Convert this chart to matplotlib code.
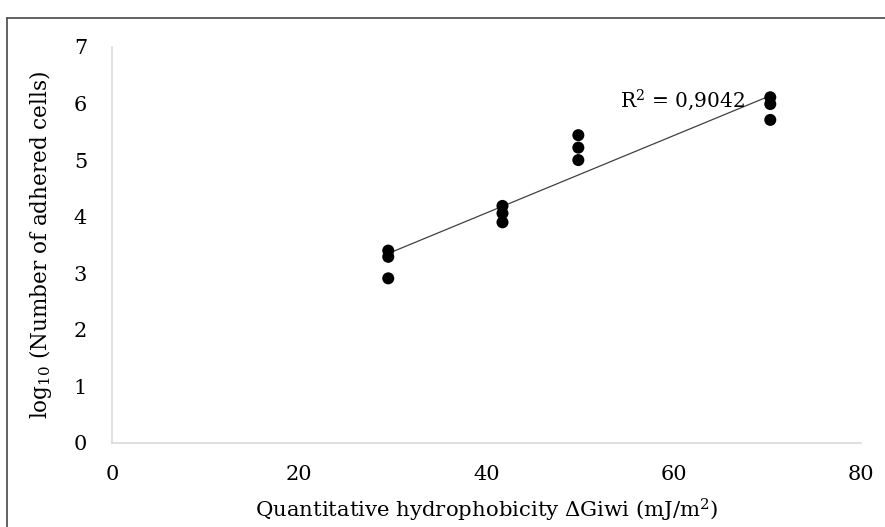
import numpy as np
import matplotlib.pyplot as plt
from matplotlib.lines import Line2D

plt.rcParams.update({'font.family': 'DejaVu Serif',
                     'mathtext.fontset': 'dejavuserif'})

# data
hydro = [29.5, 29.5, 29.5, 41.7, 41.7, 41.7, 49.8, 49.8, 49.8, 70.3, 70.3, 70.3]
log_cells = [3.40, 3.29, 2.91, 4.19, 4.06, 3.90, 5.44, 5.22, 5.00, 6.11, 5.99, 5.71]
r2_label = 'R$^2$ = 0,9042'

fig = plt.figure(figsize=(8.85, 5.27), dpi=100)
ax = fig.add_axes([0.1266, 0.1594, 0.8464, 0.7516])

x = np.array(hydro)
y = np.array(log_cells)
slope, icpt = np.polyfit(x, y, 1)
xs = np.array([x.min(), x.max()])
ax.plot(xs, slope * xs + icpt, color='#404040', lw=0.9, zorder=2)
ax.scatter(x, y, s=75, color='black', zorder=3, edgecolors='none')

ax.text(54.3, 6.05, r2_label, ha='left', va='center', fontsize=14.5)

ax.set_xlim(0, 80)
ax.set_ylim(0, 7)
ax.set_xticks(range(0, 81, 20))
ax.set_yticks(range(0, 8))
ax.tick_params(length=0, labelsize=15)
ax.tick_params(axis='y', pad=18)
ax.tick_params(axis='x', pad=16)
for s in ['top', 'right']:
    ax.spines[s].set_visible(False)
for s in ['left', 'bottom']:
    ax.spines[s].set_color('#d9d9d9')
    ax.spines[s].set_linewidth(1.2)

ax.set_xlabel('Quantitative hydrophobicity ΔGiwi (mJ/m$^2$)', fontsize=15.3, labelpad=9)
ax.set_ylabel('log$_{10}$ (Number of adhered cells)', fontsize=15.5, labelpad=14)

# outer frame (top and left)
fig.add_artist(Line2D([7 / 885, 1], [1 - 17.5 / 527, 1 - 17.5 / 527],
                      transform=fig.transFigure, color='#555555', lw=1.3))
fig.add_artist(Line2D([7 / 885, 7 / 885], [0, 1 - 17.5 / 527],
                      transform=fig.transFigure, color='#555555', lw=1.3))

fig.savefig('out.png', dpi=100, facecolor='white')
